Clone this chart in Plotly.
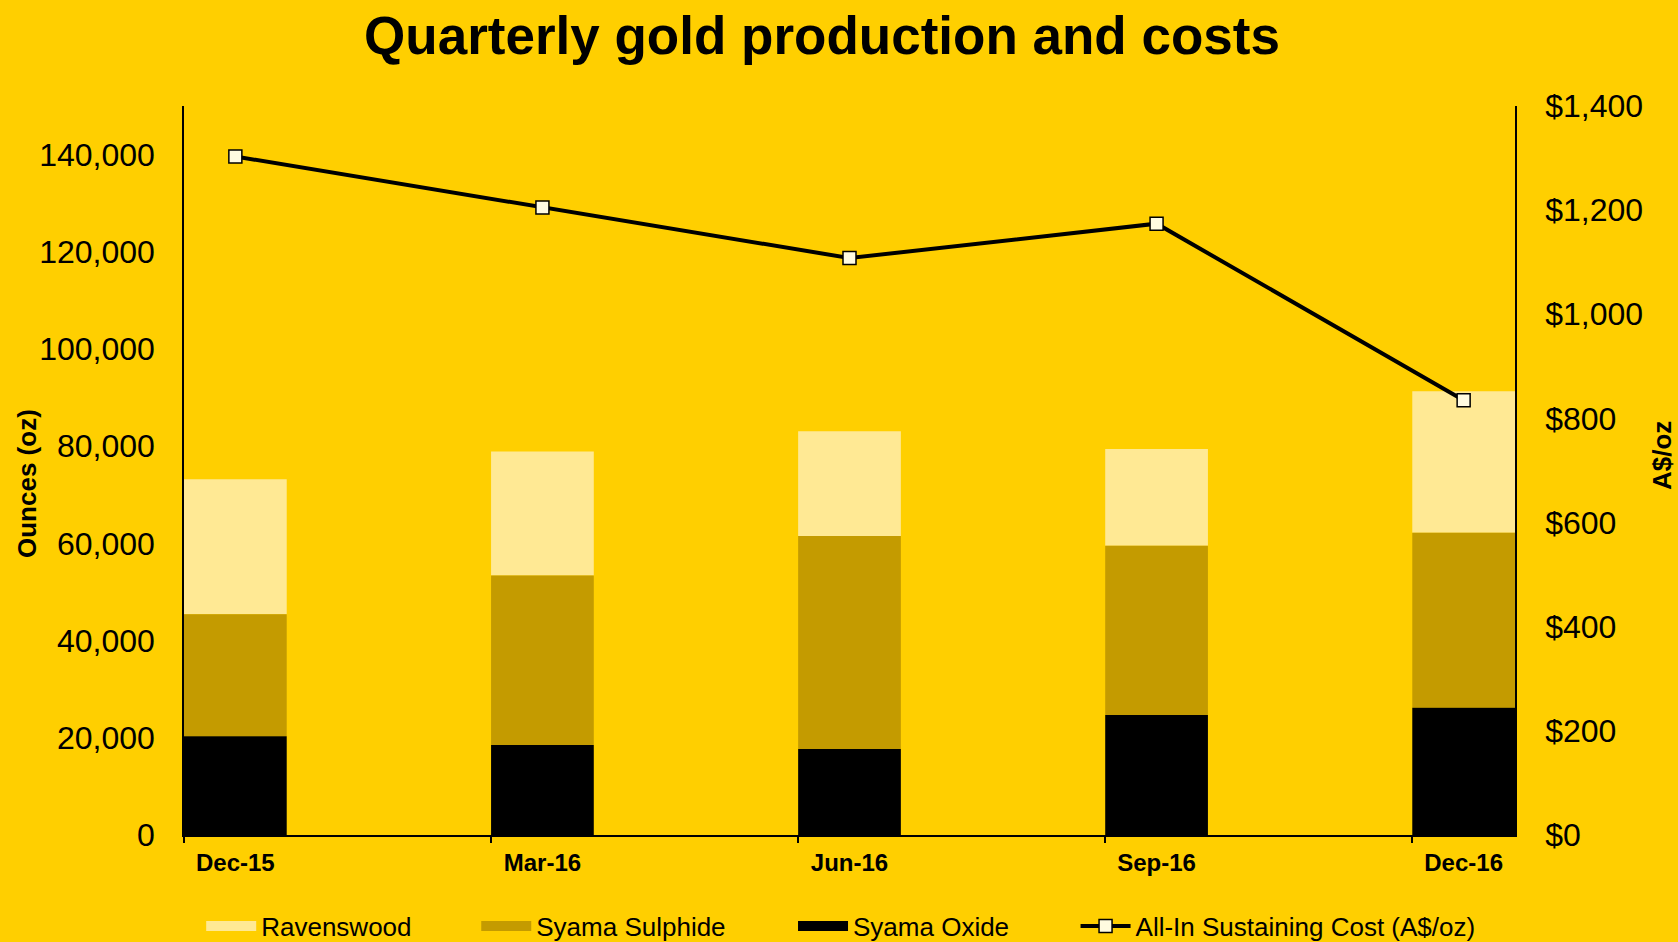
import plotly.graph_objects as go

quarters = ["Dec-15", "Mar-16", "Jun-16", "Sep-16", "Dec-16"]
syama_oxide = [20300, 18500, 17700, 24700, 26200]
syama_sulphide = [25100, 34900, 43800, 34800, 36000]
ravenswood = [27800, 25500, 21600, 19900, 29100]
aisc = [1303, 1205, 1108, 1174, 835]

xpos = list(range(len(quarters)))
BG = "#FFCF00"
FONT = "Liberation Sans, Arial, sans-serif"
C_RAV = "#FFE994"
C_SUL = "#C49B00"
C_OXI = "#000000"
bw = 0.3345
half = bw / 2

W, H = 1678, 942
ML, MR, MT, MB = 184, 163, 106, 107
pw = W - ML - MR
ph = H - MT - MB

def px_x(x):
    return (x - ML) / pw

def px_y(y):
    return (H - MB - y) / ph

fig = go.Figure()
base_rav = [a + b for a, b in zip(syama_oxide, syama_sulphide)]
fig.add_trace(go.Bar(x=xpos, y=ravenswood, base=base_rav, name="Ravenswood", showlegend=False,
                     marker=dict(color=C_RAV, line=dict(width=0)), width=bw))
fig.add_trace(go.Bar(x=xpos, y=syama_sulphide, base=syama_oxide, name="Syama Sulphide", showlegend=False,
                     marker=dict(color=C_SUL, line=dict(width=0)), width=bw))
fig.add_trace(go.Bar(x=xpos, y=syama_oxide, base=[0] * len(xpos), name="Syama Oxide", showlegend=False,
                     marker=dict(color=C_OXI, line=dict(width=0)), width=bw))
fig.add_trace(go.Scatter(x=xpos, y=aisc, name="All-In Sustaining Cost (A$/oz)", yaxis="y2", mode="lines+markers",
                         line=dict(color="#000000", width=4),
                         marker=dict(symbol="square", size=13, color="#FFFBE0", line=dict(color="#000000", width=1.5)),
                         legend="legend4"))

# legend swatches for the stacked series (wide rectangles like the original)
for nm, col, lg in [("Ravenswood", C_RAV, "legend"), ("Syama Sulphide", C_SUL, "legend2"), ("Syama Oxide", C_OXI, "legend3")]:
    fig.add_trace(go.Scatter(x=[None], y=[None], mode="lines", name=nm, line=dict(color=col, width=14),
                             legend=lg, hoverinfo="skip"))

leg_y = px_y(926)
def leg(xpix):
    return dict(orientation="h", x=px_x(xpix), xanchor="left", y=leg_y, yanchor="middle",
                font=dict(size=26, family=FONT, color="#000000"), bgcolor="rgba(0,0,0,0)",
                itemwidth=50, borderwidth=0)

fig.update_layout(
    width=W, height=H,
    paper_bgcolor=BG, plot_bgcolor=BG,
    barmode="overlay",
    margin=dict(l=ML, r=MR, t=MT, b=MB, autoexpand=False),
    font=dict(family=FONT, color="#000000"),
    title=dict(text="<b>Quarterly gold production and costs</b>", x=822 / W, xanchor="center", y=1 - 35 / H, yanchor="middle",
               font=dict(size=53, family=FONT, color="#000000")),
    xaxis=dict(range=[-half, len(quarters) - 1 + half], tickvals=xpos, ticktext=quarters,
               showline=True, linecolor="#000000", linewidth=2, ticks="", showgrid=False, zeroline=False,
               tickfont=dict(size=24, family=FONT, weight="bold"), ticklabelstandoff=5,
               minor=dict(ticks="outside", tick0=-half, dtick=1, ticklen=6, tickcolor="#000000", tickwidth=1.5)),
    yaxis=dict(range=[0, 150000], tickvals=[0, 20000, 40000, 60000, 80000, 100000, 120000, 140000],
               ticktext=["0", "20,000", "40,000", "60,000", "80,000", "100,000", "120,000", "140,000"],
               showline=True, linecolor="#000000", linewidth=1.5, showgrid=False, zeroline=False, ticks="",
               tickfont=dict(size=32, family=FONT), ticklabelstandoff=21),
    yaxis2=dict(range=[0, 1400], overlaying="y", side="right", tickvals=[0, 200, 400, 600, 800, 1000, 1200, 1400],
                ticktext=["$0", "$200", "$400", "$600", "$800", "$1,000", "$1,200", "$1,400"],
                showline=True, linecolor="#000000", linewidth=1.5, showgrid=False, zeroline=False, ticks="",
                tickfont=dict(size=32, family=FONT), ticklabelstandoff=22),
    legend=leg(188 * 1.0702),
    legend2=leg(445 * 1.0702),
    legend3=leg(741 * 1.0702),
    legend4=leg(1005 * 1.0702),
    showlegend=True,
    annotations=[
        dict(text="<b>Ounces (oz)</b>", x=px_x(27), y=px_y(484), xref="paper", yref="paper", xanchor="center",
             yanchor="middle", showarrow=False, textangle=-90, font=dict(size=26, family=FONT)),
        dict(text="<b>A$/oz</b>", x=px_x(1662), y=px_y(456), xref="paper", yref="paper", xanchor="center",
             yanchor="middle", showarrow=False, textangle=-90, font=dict(size=26, family=FONT)),
    ],
)

fig.write_html("out.html", config={"displayModeBar": False},
               post_script="document.body.style.margin='0';document.body.style.background='%s';" % BG)
